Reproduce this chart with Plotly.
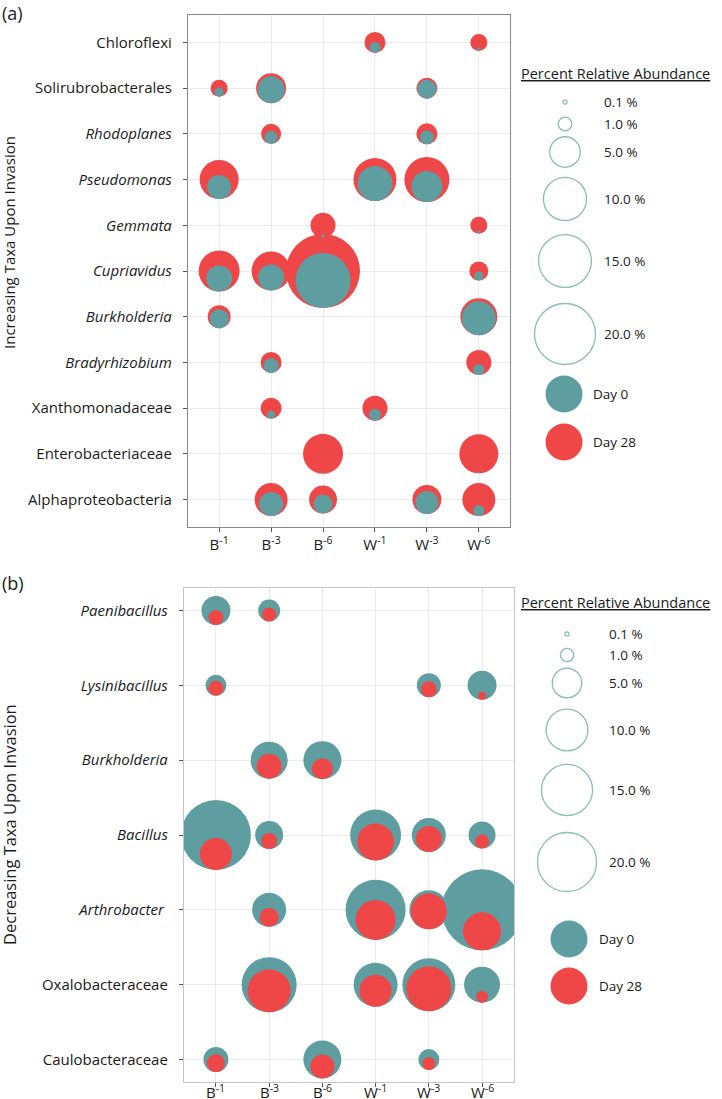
import math
import plotly.graph_objects as go

# ---------------- data ----------------
samples = ["B<sup>-1</sup>", "B<sup>-3</sup>", "B<sup>-6</sup>",
           "W<sup>-1</sup>", "W<sup>-3</sup>", "W<sup>-6</sup>"]

taxa_a = ["Chloroflexi", "Solirubrobacterales", "<i>Rhodoplanes</i>", "<i>Pseudomonas</i>",
          "<i>Gemmata</i>", "<i>Cupriavidus</i>", "<i>Burkholderia</i>", "<i>Bradyrhizobium</i>",
          "Xanthomonadaceae", "Enterobacteriaceae", "Alphaproteobacteria"]
# percent relative abundance, columns follow `samples`
day0_a = [
    [None, None, None, 0.65, None, 0.07],
    [0.44, 3.92, None, None, 1.94, None],
    [None, 0.91, None, None, 1.05, None],
    [3.10, None, None, 6.59, 5.17, None],
    [None, None, 0.07, None, None, 0.07],
    [3.63, 3.63, 16.3, None, None, 0.44],
    [1.94, None, None, None, None, 6.22],
    [None, 1.21, None, None, None, 0.65],
    [None, 0.34, None, 0.77, None, None],
    [None, None, 0.02, None, None, 0.02],
    [None, 3.10, 1.94, None, 2.84, 0.65],
]
day28_a = [
    [None, None, None, 2.37, None, 1.55],
    [1.55, 4.84, None, None, 2.37, None],
    [None, 2.15, None, None, 2.37, None],
    [8.18, None, None, 9.94, 10.9, None],
    [None, None, 3.36, None, None, 1.55],
    [9.04, 8.18, 29.4, None, None, 1.94],
    [2.84, None, None, None, None, 7.36],
    [None, 2.37, None, None, None, 3.36],
    [None, 2.37, None, 3.36, None, None],
    [None, None, 8.60, None, None, 8.18],
    [None, 5.85, 4.21, None, 4.52, 5.85],
]

taxa_b = ["<i>Paenibacillus</i>", "<i>Lysinibacillus</i>", "<i>Burkholderia</i>", "<i>Bacillus</i>",
          "<i>Arthrobacter</i> ", "Oxalobacteraceae", "Caulobacteraceae"]
day0_b = [
    [4.83, 2.78, None, None, None, None],
    [2.53, None, None, None, 3.31, 4.83],
    [None, 7.86, 8.29, None, None, None],
    [28.1, 4.50, None, 14.9, 6.64, 4.19],
    [None, 6.64, None, 20.7, 8.73, 37.7],
    [None, 17.4, None, 11.1, 16.1, 7.44],
    [3.59, None, 8.29, None, 2.53, None],
]
day28_b = [
    [1.29, 1.13, None, None, None, None],
    [1.29, None, None, None, 1.47, 0.37],
    [None, 3.59, 2.53, None, None, None],
    [5.88, 1.47, None, 7.86, 3.88, 1.13],
    [None, 2.07, None, 9.18, 7.44, 8.29],
    [None, 10.6, None, 5.88, 11.6, 0.83],
    [1.86, None, 3.31, None, 0.97, None],
]

legend_values = [0.1, 1.0, 5.0, 10.0, 15.0, 20.0]
legend_labels = ["0.1 %", "1.0 %", "5.0 %", "10.0 %", "15.0 %", "20.0 %"]

# ---------------- style ----------------
TEAL = "#5F9EA0"
RED = "#EF4647"
FONT = "Open Sans"
INK = "#1a1a1a"
W, H = 722, 1099

# plot-area pixel boxes (left, right, top, bottom)
BOX_A = (188, 510, 15, 527)
BOX_B = (184, 514, 588, 1082)
PAD_A = 0.6
PAD_B = 0.3
K_A = 13.64   # px diameter per sqrt(percent)
K_B = 13.2

fig = go.Figure()


def add_panel(day0, day28, ntaxa, box, pad, k, xa, ya, front):
    ppu = (box[3] - box[2]) / (ntaxa - 1 + 2 * pad)
    sref = 2.0 / k ** 2
    series = {"d0": ([], [], []), "d28": ([], [], [])}
    for i in range(ntaxa):
        for j in range(len(samples)):
            v0, v28 = day0[i][j], day28[i][j]
            r0 = k * math.sqrt(v0) / 2 if v0 else 0
            r28 = k * math.sqrt(v28) / 2 if v28 else 0
            R = max(r0, r28)
            for key, v, r in (("d0", v0, r0), ("d28", v28, r28)):
                if v:
                    series[key][0].append(j)
                    series[key][1].append(i + (R - r) / ppu)
                    series[key][2].append(v)
    order = [("d28", RED), ("d0", TEAL)] if front == "d0" else [("d0", TEAL), ("d28", RED)]
    for key, col in order:
        xs, ys, vs = series[key]
        fig.add_trace(go.Scatter(
            x=xs, y=ys, mode="markers", xaxis=xa, yaxis=ya, showlegend=False,
            hoverinfo="skip",
            marker=dict(size=vs, sizemode="area", sizeref=sref, color=col,
                        opacity=1, line=dict(width=0)),
        ))


add_panel(day0_a, day28_a, len(taxa_a), BOX_A, PAD_A, K_A, "x", "y", "d0")
add_panel(day0_b, day28_b, len(taxa_b), BOX_B, PAD_B, K_B, "x2", "y2", "d28")


# ---------------- legends (overlay axis in pixel units) ----------------
def add_legend(top, cx, ys, k, tx, day_y, day_cx, day_tx):
    sref = 2.0 / k ** 2
    fig.add_trace(go.Scatter(
        x=[cx] * len(legend_values), y=ys, mode="markers", xaxis="x3", yaxis="y3",
        showlegend=False, hoverinfo="skip", cliponaxis=False,
        marker=dict(size=legend_values, sizemode="area", sizeref=sref,
                    color="rgba(0,0,0,0)", line=dict(color=TEAL, width=1.3)),
    ))
    fig.add_trace(go.Scatter(
        x=[day_cx, day_cx], y=day_y, mode="markers", xaxis="x3", yaxis="y3",
        showlegend=False, hoverinfo="skip", cliponaxis=False,
        marker=dict(size=37, color=[TEAL, RED], line=dict(width=0)),
    ))
    fig.add_annotation(x=519, y=top, xref="x3", yref="y3", text="<u>Percent Relative Abundance</u>",
                       showarrow=False, xanchor="left", yanchor="middle",
                       font=dict(family=FONT, size=14.5, color=INK))
    for yy, lab in zip(ys, legend_labels):
        fig.add_annotation(x=tx, y=yy, xref="x3", yref="y3", text=lab, showarrow=False,
                           xanchor="left", yanchor="middle",
                           font=dict(family=FONT, size=13.5, color=INK))
    for yy, lab in zip(day_y, ["Day 0", "Day 28"]):
        fig.add_annotation(x=day_tx, y=yy, xref="x3", yref="y3", text=lab, showarrow=False,
                           xanchor="left", yanchor="middle",
                           font=dict(family=FONT, size=13.5, color=INK))


add_legend(73, 565, [102, 124, 152, 199, 261, 334], K_A, 602, [394, 442], 564, 591)
add_legend(602, 567, [634, 655, 683, 730, 790, 862], K_B, 607, [939, 986], 569, 597)


# ---------------- axes ----------------
def xaxis_cfg(box, linecolor, show_labels=True):
    return dict(domain=[box[0] / W, box[1] / W], range=[-0.6, len(samples) - 1 + 0.6],
                tickmode="array", tickvals=list(range(len(samples))), ticktext=samples,
                showticklabels=show_labels,
                showgrid=True, gridcolor="#EBEBEB", gridwidth=1, zeroline=False,
                showline=True, linecolor=linecolor, linewidth=1.3, mirror=True,
                ticks="outside", ticklen=4, tickcolor="#555", tickwidth=1,
                automargin=False,
                tickfont=dict(family=FONT, size=15, color=INK), fixedrange=True)


def yaxis_cfg(box, pad, taxa, linecolor):
    return dict(domain=[1 - box[3] / H, 1 - box[2] / H], range=[len(taxa) - 1 + pad, -pad],
                tickmode="array", tickvals=list(range(len(taxa))), ticktext=taxa,
                showgrid=True, gridcolor="#EBEBEB", gridwidth=1, zeroline=False,
                showline=True, linecolor=linecolor, linewidth=1.3, mirror=True,
                ticks="outside", ticklen=4, tickcolor="#555", tickwidth=1, ticklabelstandoff=8,
                automargin=False,
                tickfont=dict(family=FONT, size=15, color=INK), fixedrange=True)


fig.update_layout(
    template="none",
    width=W, height=H,
    margin=dict(l=0, r=0, t=0, b=0, pad=0, autoexpand=False),
    paper_bgcolor="white", plot_bgcolor="rgba(0,0,0,0)",
    showlegend=False,
    xaxis=dict(**xaxis_cfg(BOX_A, "#8a8a8a"), anchor="y"),
    yaxis=dict(**yaxis_cfg(BOX_A, PAD_A, taxa_a, "#8a8a8a"), anchor="x"),
    xaxis2=dict(**xaxis_cfg(BOX_B, "#c4c4c4", show_labels=False), anchor="y2"),
    yaxis2=dict(**yaxis_cfg(BOX_B, PAD_B, taxa_b, "#c4c4c4"), anchor="x2"),
    xaxis3=dict(domain=[0, 1], range=[0, W], visible=False, anchor="y3",
                fixedrange=True, automargin=False),
    yaxis3=dict(domain=[0, 1], range=[H, 0], visible=False, anchor="x3",
                fixedrange=True, automargin=False),
)

# sample labels under panel (b), placed on the x2 scale (tight to the axis as in the source)
for j, lab in enumerate(samples):
    fig.add_annotation(x=j, xref="x2", y=1091, yref="y3", text=lab, showarrow=False,
                       xanchor="center", yanchor="middle",
                       font=dict(family=FONT, size=15, color=INK))

# axis titles and panel labels
fig.add_annotation(x=9, y=243, xref="x3", yref="y3",
                   text="Increasing Taxa Upon Invasion", textangle=-90, showarrow=False,
                   font=dict(family=FONT, size=15, color=INK))
fig.add_annotation(x=9, y=825, xref="x3", yref="y3",
                   text="Decreasing Taxa Upon Invasion", textangle=-90, showarrow=False,
                   font=dict(family=FONT, size=16.5, color=INK))
fig.add_annotation(x=0, y=13, xref="x3", yref="y3", text="(a)", showarrow=False,
                   xanchor="left", yanchor="middle", font=dict(family=FONT, size=18, color=INK))
fig.add_annotation(x=0, y=583, xref="x3", yref="y3", text="(b)", showarrow=False,
                   xanchor="left", yanchor="middle", font=dict(family=FONT, size=18, color=INK))

fig.write_html("out.html", config={"displayModeBar": False},
               post_script="document.body.style.margin='0';document.body.style.padding='0';")
